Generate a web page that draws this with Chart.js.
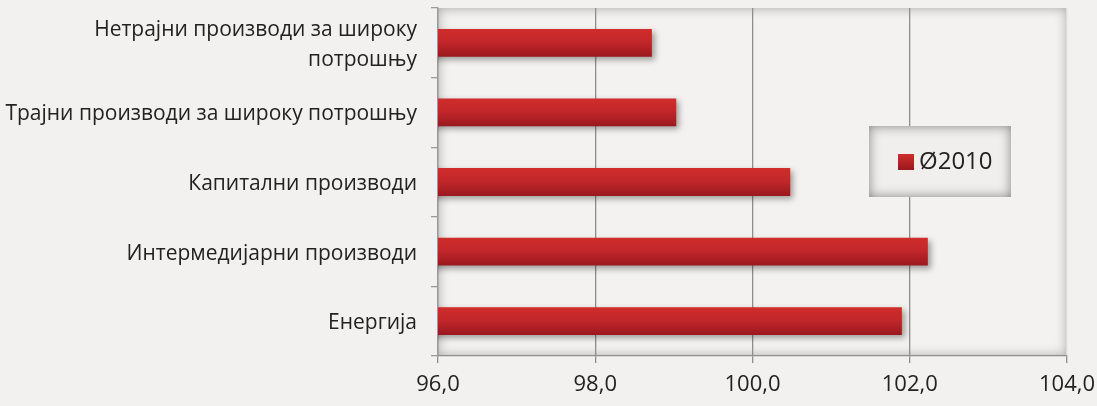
<!DOCTYPE html>
<html>
<head>
<meta charset="utf-8">
<script src="https://cdn.jsdelivr.net/npm/chart.js@4/dist/chart.umd.min.js"></script>
<style>
  html, body { margin: 0; padding: 0; background: #f2f1ef; }
  #wrap { width: 1097px; height: 406px; position: relative; }
</style>
</head>
<body>
<div id="wrap"><canvas id="c"></canvas></div>
<script>
const categories = [
  ["Нетрајни производи за широку", "потрошњу"],
  "Трајни производи за широку потрошњу",
  "Капитални производи",
  "Интермедијарни производи",
  "Енергија"
];
const values2010 = [98.72, 99.03, 100.48, 102.23, 101.9];
const seriesLabel = "Ø2010";
const xMin = 96, xMax = 104, xStep = 2;

const FONT = "'Open Sans', 'DejaVu Sans', sans-serif";
const BAR_PCT = 0.4;

function barGradient(c) {
  const chart = c.chart;
  const area = chart.chartArea;
  const ys = chart.scales && chart.scales.y;
  if (!area || !ys) return '#c0262a';
  const center = ys.getPixelForValue(c.dataIndex);
  const th = (ys.height / categories.length) * BAR_PCT;
  const g = chart.ctx.createLinearGradient(0, center - th / 2, 0, center + th / 2);
  g.addColorStop(0, '#d02d2b');
  g.addColorStop(0.45, '#c3272a');
  g.addColorStop(1, '#9a181e');
  return g;
}

const plotBg = {
  id: 'plotBg',
  beforeDraw(chart) {
    const { ctx, chartArea: a } = chart;
    ctx.save();
    ctx.fillStyle = '#f3f2f0';
    ctx.fillRect(a.left, a.top, a.width, a.height);
    ctx.beginPath();
    ctx.rect(a.left, a.top, a.width, a.height);
    ctx.clip();
    ctx.shadowColor = 'rgba(0,0,0,0.32)';
    ctx.shadowBlur = 12;
    ctx.lineWidth = 20;
    ctx.strokeStyle = '#f3f2f0';
    ctx.strokeRect(a.left - 10, a.top - 10, a.width + 20, a.height + 20);
    ctx.restore();
  },
  beforeDatasetsDraw(chart) {
    const ctx = chart.ctx;
    ctx.save();
    ctx.shadowColor = 'rgba(0,0,0,0.35)';
    ctx.shadowBlur = 6;
    ctx.shadowOffsetX = 3;
    ctx.shadowOffsetY = 3;
  },
  afterDatasetsDraw(chart) {
    chart.ctx.restore();
  }
};

const boxLegend = {
  id: 'boxLegend',
  afterDraw(chart) {
    const ctx = chart.ctx;
    const bx = 869, by = 126, bw = 142, bh = 71;
    ctx.save();
    ctx.fillStyle = '#f0efee';
    ctx.fillRect(bx, by, bw, bh);
    ctx.beginPath();
    ctx.rect(bx, by, bw, bh);
    ctx.clip();
    ctx.shadowColor = 'rgba(0,0,0,0.45)';
    ctx.shadowBlur = 12;
    ctx.lineWidth = 20;
    ctx.strokeStyle = '#f0efee';
    ctx.strokeRect(bx - 10, by - 10, bw + 20, bh + 20);
    ctx.restore();

    ctx.save();
    const g = ctx.createLinearGradient(0, 154, 0, 170);
    g.addColorStop(0, '#d02d2b');
    g.addColorStop(1, '#9a181e');
    ctx.fillStyle = g;
    ctx.fillRect(898, 154, 16, 16);
    ctx.fillStyle = '#222';
    ctx.font = "24px " + FONT;
    ctx.textBaseline = 'middle';
    ctx.textAlign = 'left';
    ctx.fillText(chart.data.datasets[0].label, 919, 162);
    ctx.restore();
  }
};

new Chart(document.getElementById('c'), {
  type: 'bar',
  data: {
    labels: categories,
    datasets: [{
      label: seriesLabel,
      data: values2010,
      backgroundColor: barGradient,
      borderWidth: 0,
      barPercentage: BAR_PCT,
      categoryPercentage: 1.0
    }]
  },
  options: {
    indexAxis: 'y',
    responsive: true,
    maintainAspectRatio: false,
    animation: false,
    layout: { padding: { top: 8, right: 30, left: 0, bottom: 0 } },
    plugins: {
      legend: { display: false },
      tooltip: { enabled: false },
      title: { display: false }
    },
    scales: {
      x: {
        type: 'linear',
        min: xMin, max: xMax,
        ticks: {
          stepSize: xStep,
          color: '#222',
          font: { family: FONT, size: 22 },
          padding: 9,
          callback: v => v.toFixed(1).replace('.', ',')
        },
        grid: {
          color: c => (c.index === 4 ? '#dcdcdc' : '#8e8e8e'),
          lineWidth: 1.3,
          tickLength: 7,
          tickColor: '#8e8e8e'
        },
        border: { display: true, color: '#8e8e8e', width: 1.3 },
        afterFit(s) { s.height = 50; s.paddingLeft = 0; s.paddingRight = 0; }
      },
      y: {
        ticks: {
          color: '#222',
          font: { family: FONT, size: 21, lineHeight: 1.45 },
          padding: 14,
          labelOffset: 2
        },
        grid: {
          drawOnChartArea: false,
          offset: true,
          tickLength: 7,
          color: '#9a9a9a',
          lineWidth: 1.3
        },
        border: { display: true, color: '#9a9a9a', width: 1.3 },
        afterFit(s) { s.width = 438; s.paddingTop = 0; s.paddingBottom = 0; }
      }
    }
  },
  plugins: [plotBg, boxLegend]
});
</script>
</body>
</html>
